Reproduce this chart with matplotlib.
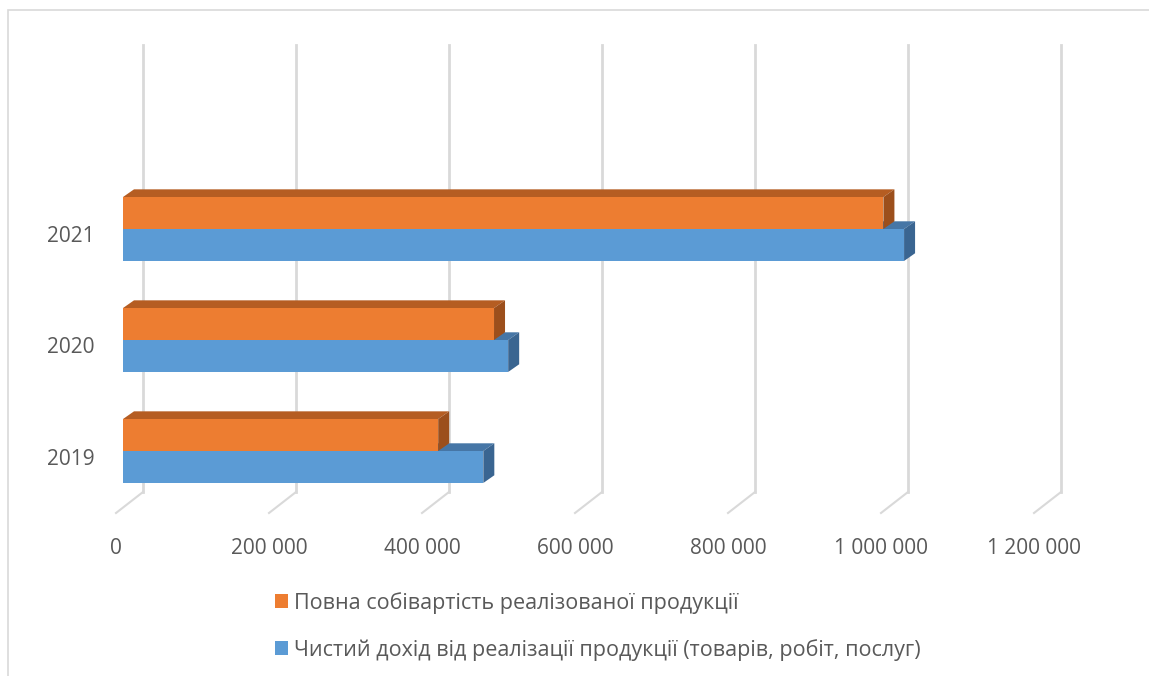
import matplotlib
matplotlib.use("Agg")
import matplotlib.pyplot as plt
from matplotlib.patches import Polygon, Rectangle, Patch

# ---- data ----
years = ["2019", "2020", "2021"]
cost = [412000, 485000, 994000]          # Повна собівартість реалізованої продукції
revenue = [471000, 503500, 1021000]      # Чистий дохід від реалізації продукції
series_names = ["Повна собівартість реалізованої продукції",
                "Чистий дохід від реалізації продукції (товарів, робіт, послуг)"]
xticks = [0, 200000, 400000, 600000, 800000, 1000000, 1200000]
xtick_labels = ["0", "200 000", "400 000", "600 000", "800 000", "1 000 000", "1 200 000"]

# ---- style ----
W, H = 1149, 676
DPI = 100
FONT = "Open Sans"
TXT = "#595959"
GRID = "#D9D9D9"
orange = dict(front="#ED7D31", top="#B55D22", side="#9C4F1C")
blue = dict(front="#5B9BD5", top="#4676A6", side="#3A6591")

fig = plt.figure(figsize=(W / DPI, H / DPI), dpi=DPI)
fig.patch.set_facecolor("white")

# outer border (top and left visible)
fig.add_artist(Rectangle((8 / W, -0.1), 1.2, (H - 10) / H + 0.1, transform=fig.transFigure,
                         fill=False, edgecolor="#D9D9D9", lw=1.2))

# front (bar) plane axes
AX_L, AX_W = 123, 918
AX_B, AX_H = 168.5, 447
XMIN, XMAX = 0, 1200000
YMIN, YMAX = -0.509, 3.518
ax = fig.add_axes([AX_L / W, AX_B / H, AX_W / W, AX_H / H])
ax.set_xlim(XMIN, XMAX)
ax.set_ylim(YMIN, YMAX)
ax.axis("off")

ux = (XMAX - XMIN) / AX_W   # data units per pixel (x)
uy = (YMAX - YMIN) / AX_H   # data units per pixel (y)

# back wall offset relative to bar plane, and floor depth
BACK_DX, BACK_DY = 20 * ux, 15.5 * uy
FLOOR_DX, FLOOR_DY = -27 * ux, -21 * uy

for v, lab in zip(xticks, xtick_labels):
    xb = v + BACK_DX
    ax.plot([xb, xb], [YMIN + BACK_DY, YMAX + BACK_DY], color=GRID, lw=2, clip_on=False, zorder=0)
    ax.plot([xb, xb + FLOOR_DX], [YMIN + BACK_DY, YMIN + BACK_DY + FLOOR_DY],
            color=GRID, lw=1.5, clip_on=False, zorder=0)
    ax.text(xb + FLOOR_DX, YMIN + BACK_DY + FLOOR_DY - 35 * uy, lab,
            ha="center", va="center", fontsize=15, color=TXT, family=FONT)

BAR_H = 0.288
DX, DY = 11 * ux, 7.7 * uy


def bar3d(y0, val, c, z):
    y1 = y0 + BAR_H
    top = Polygon([(0, y1), (val, y1), (val + DX, y1 + DY), (DX, y1 + DY)],
                  closed=True, facecolor=c["top"], edgecolor="none", zorder=z, clip_on=False)
    side = Polygon([(val, y0), (val + DX, y0 + DY), (val + DX, y1 + DY), (val, y1)],
                   closed=True, facecolor=c["side"], edgecolor="none", zorder=z, clip_on=False)
    ax.add_patch(top)
    ax.add_patch(side)
    ax.barh(y0, val, height=BAR_H, align="edge", color=c["front"], zorder=z + 0.1,
            edgecolor="none", clip_on=False)


for i, y in enumerate(years):
    bar3d(i - BAR_H, revenue[i], blue, 2 + i * 2)
    bar3d(i, cost[i], orange, 3 + i * 2)
    ax.text(-28 * ux, i - 8 * uy, y, ha="right", va="center", fontsize=15, color=TXT, family=FONT)

handles = [Patch(facecolor=orange["front"], edgecolor="none"),
           Patch(facecolor=blue["front"], edgecolor="none")]
fig.legend(handles, series_names, loc="upper left", bbox_to_anchor=(275 / W, 1 - 592 / H),
           frameon=False, handlelength=0.6, handleheight=0.6, handletextpad=0.3,
           labelspacing=1.15, prop={"family": FONT, "size": 15.5}, labelcolor=TXT,
           borderaxespad=0, borderpad=0)

fig.savefig("out.png", dpi=DPI)
